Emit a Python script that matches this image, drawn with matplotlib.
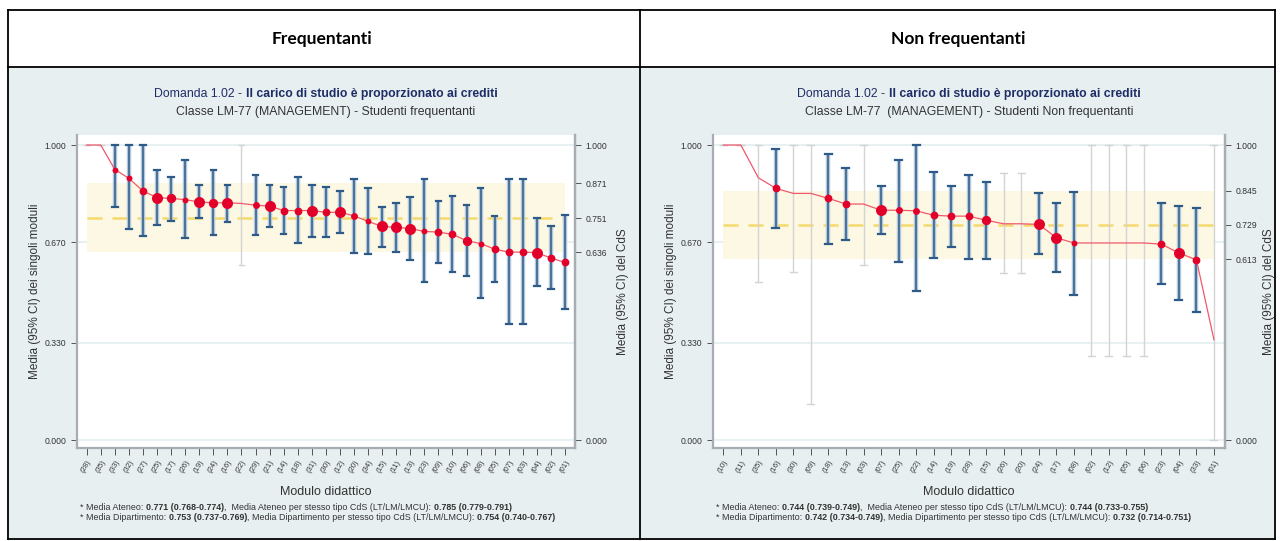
import numpy as np
import matplotlib
matplotlib.use("Agg")
import matplotlib.pyplot as plt
from matplotlib.patches import Rectangle
from matplotlib.lines import Line2D

# ---- data: Frequentanti ----
freq_labels = ["(28)", "(35)", "(33)", "(32)", "(27)", "(25)", "(17)", "(26)", "(19)", "(24)",
               "(16)", "(22)", "(29)", "(21)", "(14)", "(18)", "(31)", "(30)", "(12)", "(20)",
               "(34)", "(15)", "(11)", "(13)", "(23)", "(09)", "(10)", "(06)", "(08)", "(05)",
               "(07)", "(03)", "(04)", "(02)", "(01)"]
freq_mean = [1.000, 1.000, 0.917, 0.887, 0.844, 0.822, 0.819, 0.815, 0.807, 0.804,
             0.804, 0.802, 0.796, 0.793, 0.778, 0.778, 0.778, 0.772, 0.772, 0.760,
             0.741, 0.724, 0.721, 0.717, 0.707, 0.705, 0.697, 0.676, 0.666, 0.647,
             0.637, 0.637, 0.635, 0.617, 0.602]
freq_lo = [1.000, 1.000, 0.790, 0.717, 0.692, 0.730, 0.743, 0.685, 0.753, 0.696,
           0.739, 0.592, 0.694, 0.722, 0.700, 0.669, 0.688, 0.688, 0.703, 0.635,
           0.632, 0.654, 0.637, 0.611, 0.535, 0.601, 0.571, 0.556, 0.482, 0.537,
           0.393, 0.393, 0.522, 0.512, 0.444]
freq_hi = [1.000, 1.000, 1.000, 1.000, 1.000, 0.915, 0.892, 0.949, 0.866, 0.915,
           0.866, 1.000, 0.898, 0.866, 0.858, 0.890, 0.866, 0.858, 0.844, 0.884,
           0.853, 0.790, 0.804, 0.824, 0.884, 0.810, 0.827, 0.796, 0.853, 0.760,
           0.884, 0.884, 0.751, 0.726, 0.764]
freq_n = [3, 3, 8, 8, 14, 28, 20, 8, 28, 20,
          28, 3, 11, 28, 14, 14, 28, 14, 28, 11,
          8, 28, 28, 28, 8, 14, 14, 20, 8, 14,
          14, 14, 28, 14, 14]
freq_cds = [0.636, 0.751, 0.871]
freq_notes = [[("* Media Ateneo: ", 0), ("0.771 (0.768-0.774)", 1),
               (",  Media Ateneo per stesso tipo CdS (LT/LM/LMCU): ", 0), ("0.785 (0.779-0.791)", 1)],
              [("* Media Dipartimento: ", 0), ("0.753 (0.737-0.769)", 1),
               (", Media Dipartimento per stesso tipo CdS (LT/LM/LMCU): ", 0), ("0.754 (0.740-0.767)", 1)]]

# ---- data: Non frequentanti ----
nf_labels = ["(10)", "(11)", "(35)", "(16)", "(30)", "(09)", "(18)", "(13)", "(03)", "(07)",
             "(25)", "(22)", "(14)", "(19)", "(28)", "(15)", "(26)", "(20)", "(24)", "(17)",
             "(08)", "(02)", "(12)", "(05)", "(06)", "(23)", "(04)", "(33)", "(01)"]
nf_mean = [1.000, 1.000, 0.889, 0.853, 0.836, 0.836, 0.819, 0.800, 0.800, 0.779,
           0.779, 0.777, 0.762, 0.759, 0.759, 0.745, 0.733, 0.733, 0.731, 0.686,
           0.668, 0.668, 0.668, 0.668, 0.668, 0.664, 0.634, 0.611, 0.340]
nf_lo = [1.000, 1.000, 0.537, 0.719, 0.569, 0.121, 0.666, 0.677, 0.592, 0.700,
         0.605, 0.505, 0.617, 0.654, 0.615, 0.615, 0.567, 0.567, 0.630, 0.569,
         0.492, 0.286, 0.286, 0.286, 0.286, 0.528, 0.475, 0.435, 0.000]
nf_hi = [1.000, 1.000, 1.000, 0.985, 1.000, 1.000, 0.969, 0.923, 1.000, 0.861,
         0.949, 1.000, 0.907, 0.861, 0.900, 0.875, 0.906, 0.906, 0.836, 0.805,
         0.841, 1.000, 1.000, 1.000, 1.000, 0.805, 0.793, 0.788, 1.000]
nf_n = [3, 3, 3, 14, 3, 3, 14, 14, 3, 28,
        11, 11, 14, 14, 14, 20, 3, 3, 28, 28,
        8, 3, 3, 3, 3, 14, 28, 14, 3]
nf_cds = [0.613, 0.729, 0.845]
nf_notes = [[("* Media Ateneo: ", 0), ("0.744 (0.739-0.749)", 1),
             (",  Media Ateneo per stesso tipo CdS (LT/LM/LMCU): ", 0), ("0.744 (0.733-0.755)", 1)],
            [("* Media Dipartimento: ", 0), ("0.742 (0.734-0.749)", 1),
             (", Media Dipartimento per stesso tipo CdS (LT/LM/LMCU): ", 0), ("0.732 (0.714-0.751)", 1)]]

W, H = 1283, 541
plt.rcParams['font.family'] = ['Liberation Sans', 'DejaVu Sans']
fig = plt.figure(figsize=(W / 100, H / 100), dpi=100)
fig.patch.set_facecolor('white')

BG = '#e7eff1'
NAVY = '#1f2d66'
DARK = '#333333'


def fx(px):
    return px / W


def fy(py):
    return 1 - py / H


def rich_text(x, y, parts, size, centre=True):
    # one line of text made of (string, weight, color) pieces
    r = fig.canvas.get_renderer()
    objs = []
    for s, w, c in parts:
        t = fig.text(0, fy(y), s, fontsize=size, fontweight=w, color=c, va='center', ha='left')
        objs.append(t)
    widths = [t.get_window_extent(r).width for t in objs]
    start = x - sum(widths) / 2 if centre else x
    for t, wd in zip(objs, widths):
        t.set_x(fx(start))
        start += wd


# cell backgrounds and table borders
fig.patches.append(Rectangle((fx(9), fy(539)), fx(631), (539 - 68) / H, transform=fig.transFigure,
                             facecolor=BG, edgecolor='none', zorder=-5))
fig.patches.append(Rectangle((fx(641), fy(539)), fx(633), (539 - 68) / H, transform=fig.transFigure,
                             facecolor=BG, edgecolor='none', zorder=-5))
for xs, ys in [([8, 1275], [10, 10]), ([8, 1275], [67, 67]), ([8, 1275], [539, 539]),
               ([8, 8], [10, 539]), ([640, 640], [10, 539]), ([1275, 1275], [10, 539])]:
    fig.lines.append(Line2D([fx(v) for v in xs], [fy(v) for v in ys], transform=fig.transFigure,
                            color='black', lw=1.3, zorder=10))

fig.text(fx(322), fy(39), "Frequentanti", fontsize=12.5, fontweight='bold', ha='center', va='center',
         family=['Lato', 'DejaVu Sans'])
fig.text(fx(958), fy(39), "Non frequentanti", fontsize=12.5, fontweight='bold', ha='center', va='center',
         family=['Lato', 'DejaVu Sans'])


def panel(x0, x1, labels, mean, lo, hi, n, cds, notes, sub, xpad, rpad):
    ax = fig.add_axes([fx(x0), fy(448), fx(x1) - fx(x0), (448 - 135) / H])
    ax.set_facecolor('white')
    k = len(mean)
    xs = np.arange(1, k + 1)
    ax.set_xlim(1 - xpad[0], k + xpad[1])
    ax.set_ylim(-0.027, 1.034)

    for g in [0, 0.33, 0.67, 1.0]:
        ax.axhline(g, color='#e8f1f2', lw=1.5, zorder=0)
    ax.fill_between([1, k], cds[0], cds[2], color='#fdf8e3', lw=0, zorder=1)
    ax.plot([1, k], [cds[1], cds[1]], color='#f4d96c', lw=1.8, dashes=(6, 4), zorder=2)

    for i in range(k):
        if n[i] < 5:
            ax.plot([xs[i], xs[i]], [lo[i], hi[i]], color='#d4d4d4', lw=1, zorder=3)
            ax.plot([xs[i] - 0.2, xs[i] + 0.2], [lo[i], lo[i]], color='#d4d4d4', lw=1, zorder=3)
            ax.plot([xs[i] - 0.2, xs[i] + 0.2], [hi[i], hi[i]], color='#d4d4d4', lw=1, zorder=3)
        else:
            ax.plot([xs[i], xs[i]], [lo[i], hi[i]], color='#b3c8dc', lw=3.2, zorder=3,
                    solid_capstyle='butt')
            ax.plot([xs[i], xs[i]], [lo[i], hi[i]], color='#2d5a86', lw=1.1, zorder=4)
            for v in (lo[i], hi[i]):
                ax.plot([xs[i] - 0.2, xs[i] + 0.2], [v, v], color='#2d5a86', lw=1.6, zorder=4)

    ax.plot(xs, mean, color='#f0586c', lw=0.9, zorder=5)
    for i in range(k):
        if n[i] >= 5:
            ax.plot(xs[i], mean[i], 'o', color='#e2002b', ms=1.5 * np.sqrt(n[i]), mec='none', zorder=6)

    ax.spines['top'].set_visible(False)
    for side in ['left', 'bottom', 'right']:
        ax.spines[side].set_color('#a7adb2')
        ax.spines[side].set_linewidth(1.6)

    ax.set_yticks([0, 0.33, 0.67, 1.0])
    ax.set_yticklabels(["0.000", "0.330", "0.670", "1.000"])
    ax.tick_params(axis='y', labelsize=6.2, colors='#555555', labelcolor=DARK, length=4, width=0.7)
    ax.set_xticks(xs)
    ax.set_xticklabels(labels, rotation=60, ha='right', va='top', rotation_mode='anchor')
    ax.tick_params(axis='x', labelsize=5.5, colors='#555555', labelcolor=DARK, length=5, width=0.7, pad=3)
    ax.set_ylabel("Media (95% CI) dei singoli moduli", fontsize=8.5, color=DARK, labelpad=3)
    ax.set_xlabel("Modulo didattico", fontsize=9, color=DARK, labelpad=8)

    ax2 = ax.twinx()
    ax2.set_ylim(ax.get_ylim())
    ax2.set_yticks([0, cds[0], cds[1], cds[2], 1.0])
    ax2.set_yticklabels(["0.000"] + ["%.3f" % v for v in cds] + ["1.000"])
    ax2.tick_params(axis='y', labelsize=6.2, colors='#555555', labelcolor=DARK, length=4, width=0.7)
    for side in ['top', 'left', 'bottom']:
        ax2.spines[side].set_visible(False)
    ax2.spines['right'].set_color('#a7adb2')
    ax2.spines['right'].set_linewidth(1.6)
    ax2.set_ylabel("Media (95% CI) del CdS", fontsize=8.5, color=DARK, labelpad=rpad)
    ax2.yaxis.set_label_position('right')

    cx = (x0 + x1) / 2
    rich_text(cx, 94, [("Domanda 1.02 - ", 'normal', NAVY),
                       ("Il carico di studio è proporzionato ai crediti", 'bold', NAVY)], 8.8)
    rich_text(cx, 112, [(sub, 'normal', DARK)], 8.8)
    for row, yy in zip(notes, [508, 517]):
        rich_text(x0 + 3, yy, [(s, 'bold' if b else 'normal', DARK) for s, b in row], 6.4, centre=False)
    return ax


panel(77, 575, freq_labels, freq_mean, freq_lo, freq_hi, freq_n, freq_cds, freq_notes,
      "Classe LM-77 (MANAGEMENT) - Studenti frequentanti", (0.69, 0.71), 7)
panel(713, 1225, nf_labels, nf_mean, nf_lo, nf_hi, nf_n, nf_cds, nf_notes,
      "Classe LM-77  (MANAGEMENT) - Studenti Non frequentanti", (0.59, 0.63), 4)

fig.savefig("out.png", dpi=100)
